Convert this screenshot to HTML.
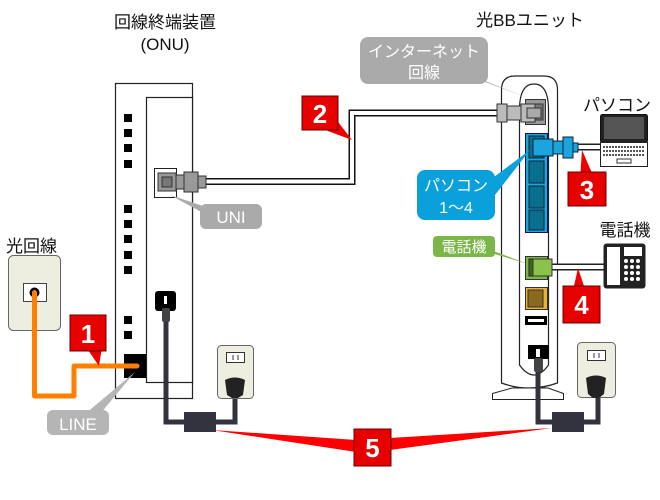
<!DOCTYPE html>
<html><head><meta charset="utf-8"><style>
html,body{margin:0;padding:0;background:#fff;}
svg{display:block;font-family:"Liberation Sans","Noto Sans CJK JP",sans-serif;}
</style></head><body>
<svg width="660" height="500" viewBox="0 0 660 500" xmlns="http://www.w3.org/2000/svg">
<!-- titles -->
<text x="165" y="28" font-size="17" text-anchor="middle" fill="#111">回線終端装置</text>
<text x="165" y="50" font-size="17" text-anchor="middle" fill="#111">(ONU)</text>
<text x="530" y="26" font-size="17" text-anchor="middle" fill="#111">光BBユニット</text>
<text x="617" y="111" font-size="17" text-anchor="middle" fill="#111">パソコン</text>
<text x="625" y="236" font-size="17" text-anchor="middle" fill="#111">電話機</text>
<text x="6" y="252" font-size="17" fill="#111">光回線</text>

<!-- ONU -->
<rect x="115.5" y="83.5" width="77" height="315" fill="#fff" stroke="#222" stroke-width="1.2"/>
<rect x="146.5" y="97.5" width="46" height="285" fill="#fff" stroke="#222" stroke-width="1.2"/>
<g fill="#000">
<rect x="124" y="114" width="8" height="8"/><rect x="124" y="129" width="8" height="8"/><rect x="124" y="144" width="8" height="8"/><rect x="124" y="160" width="8" height="8"/>
<rect x="124" y="205" width="8" height="8"/><rect x="124" y="220" width="8" height="8"/><rect x="124" y="235" width="8" height="8"/><rect x="124" y="251" width="8" height="8"/><rect x="124" y="266" width="8" height="8"/>
<rect x="124" y="316" width="8" height="8"/><rect x="124" y="331" width="8" height="8"/>
<rect x="124" y="354" width="22" height="24"/>
</g>
<!-- UNI port -->
<rect x="154.5" y="168.5" width="22" height="29" fill="#fff" stroke="#222"/>
<!-- cable 2 -->
<path d="M205 181.5 H352 V113 H505" fill="none" stroke="#111" stroke-width="7"/>
<path d="M205 181.5 H352 V113 H505" fill="none" stroke="#fff" stroke-width="4"/>
<g fill="#999" stroke="#333" stroke-width="1">
<rect x="158" y="173" width="18" height="18"/>
<rect x="176" y="175" width="8" height="14"/>
<rect x="184" y="172" width="14" height="20"/>
<rect x="198" y="176" width="8" height="12"/>
</g>
<rect x="162" y="177" width="10" height="10" fill="#777" stroke="#333"/>
<!-- UNI label -->
<path d="M170 195 L215 210 L205 214 Z" fill="#aaa"/>
<rect x="200" y="204" width="62" height="25" rx="6" fill="#aaa"/>
<text x="231" y="223" font-size="17" fill="#fff" text-anchor="middle">UNI</text>

<!-- badge 2 -->
<path d="M320 128 L352 140 L335 118 Z" fill="#e00"/>
<rect x="302" y="96" width="36" height="34" fill="#e60000" stroke="#600" stroke-width="1"/>
<text x="320" y="123" font-size="26" font-weight="bold" fill="#fff" text-anchor="middle">2</text>

<!-- Optical outlet -->
<rect x="8.5" y="255.5" width="52" height="75" rx="5" fill="#eeeee0" stroke="#666"/>
<rect x="23.5" y="283.5" width="23" height="18" fill="#fff" stroke="#444"/>
<circle cx="34.5" cy="292.5" r="5" fill="#000"/>
<path d="M34.5 292.5 V396 H74 V366 H137" fill="none" stroke="#ff8000" stroke-width="5" stroke-linejoin="round" stroke-linecap="round"/>
<!-- badge1 -->
<path d="M88 350 L99 366 L102 347 Z" fill="#e00"/>
<rect x="70" y="315" width="36" height="36" fill="#e60000" stroke="#600"/>
<text x="88" y="343" font-size="26" font-weight="bold" fill="#fff" text-anchor="middle">1</text>
<!-- LINE label -->
<path d="M135 372 L100 414 L85 414 Z" fill="#b5b5b5"/>
<rect x="47" y="410" width="62" height="25" rx="6" fill="#b5b5b5"/>
<text x="78" y="430" font-size="17" fill="#fff" text-anchor="middle">LINE</text>

<!-- ONU power -->
<rect x="155" y="291" width="21" height="20" rx="3" fill="#000"/>
<rect x="164" y="296" width="3" height="8" fill="#fff"/>
<path d="M166 310 V422 H186 M216 422 H235 V395" fill="none" stroke="#33333f" stroke-width="5"/>
<rect x="162" y="308" width="8" height="14" rx="2" fill="#444"/>
<rect x="184" y="412" width="32" height="20" fill="#33333f"/>
<!-- left wall outlet -->
<rect x="217.5" y="345.5" width="36" height="53" rx="4" fill="#eeeee0" stroke="#666"/>
<rect x="226.5" y="352.5" width="18" height="10" fill="#fff" stroke="#333"/>
<path d="M233 355 V360 M238 355 V360" stroke="#333"/>
<path d="M225 380 Q235 375 245 380 L243 395 L238 398 H232 L227 395 Z" fill="#222"/>

<!-- BB unit -->
<path d="M501.5 383 V90 Q501.5 76 515 76 H544 Q557.5 76 557.5 90 V383 Q529 393 501.5 383 Z" fill="#fff" stroke="#222" stroke-width="1.2"/>
<path d="M514 386 V393 M545 386 V393" stroke="#222"/>
<path d="M492.5 393.5 L512 388 H548 L563.5 393.5 V399.5 H492.5 Z" fill="#fff" stroke="#222"/>
<path d="M519.5 110 Q519.5 84 534 84 Q548.5 84 548.5 110 V365 Q534 385 519.5 365 Z" fill="#fff" stroke="#222" stroke-width="1.2"/>
<!-- internet port -->
<rect x="525.5" y="99.5" width="20" height="25" fill="#999" stroke="#333"/>
<rect x="528" y="104" width="15" height="16" fill="#777" stroke="#333"/>
<g fill="#bbb" stroke="#333">
<rect x="497" y="104" width="10" height="18"/>
<rect x="507" y="106" width="14" height="14"/>
<rect x="521" y="104" width="14" height="18"/>
</g>
<rect x="527" y="108" width="14" height="10" fill="#aaa" stroke="#333"/>
<!-- Internet label -->
<path d="M470 75 L528 98 L485 82 Z" fill="#aaa"/>
<rect x="360" y="37" width="128" height="47" rx="8" fill="#aaa"/>
<text x="424" y="57" font-size="16" fill="#fff" text-anchor="middle">インターネット</text>
<text x="424" y="78" font-size="16" fill="#fff" text-anchor="middle">回線</text>
<!-- blue ports -->
<rect x="525.5" y="133.5" width="22" height="99" fill="#1aa5dc" stroke="#115"/>
<g fill="#0a6f8f" stroke="#123">
<rect x="529" y="136" width="15" height="22"/><rect x="529" y="161" width="15" height="22"/><rect x="529" y="186" width="15" height="22"/><rect x="529" y="210" width="15" height="20"/>
</g>
<path d="M572 147 H602" stroke="#222" stroke-width="7"/>
<path d="M572 147 H602" stroke="#fff" stroke-width="4"/>
<g fill="#1aa5dc" stroke="#123">
<rect x="533" y="139" width="20" height="17"/>
<rect x="553" y="141" width="10" height="13"/>
<rect x="563" y="137" width="10" height="21"/>
<rect x="573" y="143" width="5" height="9"/>
</g>
<!-- blue label -->
<path d="M490 180 L530 150 L495 195 Z" fill="#0aa0dc"/>
<rect x="417" y="170" width="78" height="50" rx="8" fill="#0aa0dc"/>
<text x="456" y="191" font-size="16" fill="#fff" text-anchor="middle">パソコン</text>
<text x="456" y="213" font-size="16" fill="#fff" text-anchor="middle">1～4</text>
<!-- laptop -->
<rect x="600.5" y="114.5" width="47" height="28" rx="2" fill="#222" stroke="#111"/>
<rect x="604" y="117" width="40" height="22" fill="#555"/>
<rect x="600.5" y="142.5" width="47" height="24" fill="#fff" stroke="#222"/>
<path d="M603 147 H645 M603 151 H645 M603 155 H645" stroke="#555" stroke-width="2" stroke-dasharray="2 1"/>
<rect x="617" y="159" width="14" height="4" fill="#fff" stroke="#333"/>
<!-- badge3 -->
<path d="M580 180 L582 150 L595 180 Z" fill="#e00"/>
<rect x="568" y="172" width="38" height="34" fill="#e60000" stroke="#600"/>
<text x="587" y="199" font-size="26" font-weight="bold" fill="#fff" text-anchor="middle">3</text>

<!-- green port -->
<rect x="525.5" y="256.5" width="22" height="23" fill="#7ab648" stroke="#333"/>
<path d="M548 267 H605" stroke="#222" stroke-width="7"/>
<path d="M548 267 H605" stroke="#fff" stroke-width="4"/>
<rect x="529" y="259" width="8" height="17" fill="#3d6a20" stroke="#222"/>
<rect x="533" y="259" width="19" height="17" fill="#8bc34a" stroke="#333"/>
<!-- green label -->
<path d="M480 246 L528 264 L488 252 Z" fill="#7ab648"/>
<rect x="433" y="236" width="62" height="21" rx="4" fill="#7ab648"/>
<text x="464" y="252" font-size="15" fill="#fff" text-anchor="middle">電話機</text>
<!-- phone -->
<rect x="603.5" y="243.5" width="42" height="45" rx="3" fill="#222"/>
<rect x="607" y="247" width="13" height="38" fill="#fff"/>
<rect x="624" y="247" width="18" height="9" fill="#fff"/>
<g fill="#fff">
<circle cx="626" cy="261" r="2"/><circle cx="632" cy="261" r="2"/><circle cx="638" cy="261" r="2"/>
<circle cx="626" cy="267" r="2"/><circle cx="632" cy="267" r="2"/><circle cx="638" cy="267" r="2"/>
<circle cx="626" cy="273" r="2"/><circle cx="632" cy="273" r="2"/><circle cx="638" cy="273" r="2"/>
<circle cx="626" cy="279" r="2"/><circle cx="632" cy="279" r="2"/><circle cx="638" cy="279" r="2"/>
</g>
<!-- badge4 -->
<path d="M574 286 L578 268 L584 286 Z" fill="#e00"/>
<rect x="563" y="286" width="37" height="37" fill="#e60000" stroke="#600"/>
<text x="581.5" y="314" font-size="26" font-weight="bold" fill="#fff" text-anchor="middle">4</text>

<!-- orange port, usb -->
<rect x="525.5" y="287.5" width="22" height="22" fill="#f0b030" stroke="#333"/>
<rect x="528" y="290" width="15" height="17" fill="#8a6a20" stroke="#333"/>
<rect x="525" y="316" width="22" height="9" fill="#000"/>
<rect x="528" y="319" width="16" height="3" fill="#fff"/>
<!-- BB power -->
<rect x="528" y="345" width="21" height="14" fill="#000"/>
<rect x="536" y="349" width="4" height="8" fill="#fff"/>
<path d="M538 370 V422 H552 M584 422 H598 V395" fill="none" stroke="#33333f" stroke-width="5"/>
<rect x="534" y="358" width="9" height="14" rx="2" fill="#444"/>
<rect x="552" y="412" width="32" height="20" fill="#33333f"/>
<!-- right wall outlet -->
<rect x="577.5" y="342.5" width="38" height="55" rx="4" fill="#eeeee0" stroke="#666"/>
<rect x="587.5" y="350.5" width="18" height="10" fill="#fff" stroke="#333"/>
<path d="M594 353 V358 M599 353 V358" stroke="#333"/>
<path d="M586 378 Q596 373 606 378 L604 394 L599 398 H593 L588 394 Z" fill="#222"/>

<!-- badge5 rays -->
<path d="M212 430 L356 440 L356 452 Z" fill="#f00"/>
<path d="M552 428 L390 438 L390 450 Z" fill="#f00"/>
<rect x="354" y="429" width="37" height="37" fill="#e60000" stroke="#600"/>
<text x="372.5" y="457" font-size="26" font-weight="bold" fill="#fff" text-anchor="middle">5</text>
</svg>
</body></html>
